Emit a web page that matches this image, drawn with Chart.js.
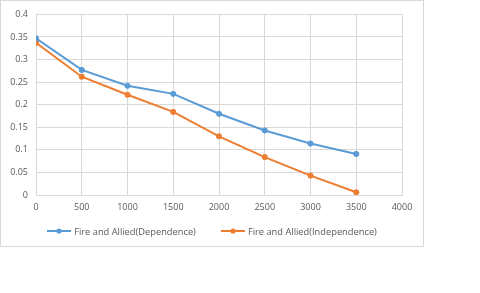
<!DOCTYPE html>
<html><head><meta charset="utf-8">
<script src="https://cdn.jsdelivr.net/npm/chart.js@4/dist/chart.umd.min.js"></script>
<style>
html,body{margin:0;padding:0;background:#fff;width:480px;height:293px;overflow:hidden}
#wrap{position:absolute;left:0;top:0;width:422px;height:245px;border:1px solid #d9d9d9}
canvas{display:block}
#legend{position:absolute;left:0;top:224px;width:424px;height:14px;display:flex;justify-content:center;align-items:center;
  font-family:'Open Sans','Liberation Sans',sans-serif;font-size:9.3px;color:#595959;white-space:nowrap}
.item{display:flex;align-items:center}
.item + .item{margin-left:25px}
.item svg{margin-right:3px;display:block}
</style></head><body>
<div id="wrap"><canvas id="c" width="422" height="245"></canvas></div>
<div id="legend"></div>
<script>
const xValues = [0, 500, 1000, 1500, 2000, 2500, 3000, 3500];
const dependence = [0.347, 0.277, 0.242, 0.224, 0.180, 0.143, 0.114, 0.091];
const independence = [0.337, 0.262, 0.222, 0.184, 0.130, 0.084, 0.043, 0.006];
const seriesNames = ['Fire and Allied(Dependence)', 'Fire and Allied(Independence)'];
const blue = '#5b9bd5', orange = '#ed7d31';

const font = {family: 'Open Sans, Liberation Sans, sans-serif', size: 9};
const chart = new Chart(document.getElementById('c'), {
  type: 'line',
  data: {
    datasets: [
      {label: seriesNames[0], data: xValues.map((x,i)=>({x, y: dependence[i]})), borderColor: blue, backgroundColor: blue, pointStyle: 'circle', borderWidth: 2, pointRadius: 2.6, pointBorderWidth: 1, pointHoverRadius: 2.6},
      {label: seriesNames[1], data: xValues.map((x,i)=>({x, y: independence[i]})), borderColor: orange, backgroundColor: orange, pointStyle: 'circle', borderWidth: 2, pointRadius: 2.6, pointBorderWidth: 1, pointHoverRadius: 2.6}
    ]
  },
  options: {
    responsive: false, animation: false, devicePixelRatio: 1,
    layout: {padding: {left: 0, right: 21, top: 11, bottom: 36}},
    elements: {line: {tension: 0}},
    plugins: {tooltip: {enabled: false}, legend: {display: false}},
    scales: {
      x: {
        type: 'linear', min: 0, max: 4000,
        ticks: {stepSize: 500, color: '#595959', font, padding: 7, maxRotation: 0, callback: v => String(v)},
        grid: {color: '#d9d9d9', drawTicks: false},
        border: {color: '#d9d9d9'},
        afterFit(s){ s.height = 15; }
      },
      y: {
        min: 0, max: 0.4,
        ticks: {stepSize: 0.05, color: '#595959', font, padding: 8, callback: v => String(parseFloat(v.toFixed(2)))},
        grid: {color: '#d9d9d9', drawTicks: false},
        border: {display: false},
        afterFit(s){ s.width = 35; }
      }
    }
  }
});

const legend = document.getElementById('legend');
chart.data.datasets.forEach(d => {
  const item = document.createElement('div');
  item.className = 'item';
  item.innerHTML = '<svg width="24" height="8" viewBox="0 0 24 8"><line x1="0" y1="4" x2="24" y2="4" stroke="' + d.borderColor + '" stroke-width="2"/><circle cx="12" cy="4" r="2.6" fill="' + d.borderColor + '"/></svg>';
  const span = document.createElement('span');
  span.textContent = d.label;
  item.appendChild(span);
  legend.appendChild(item);
});
</script>
</body></html>
